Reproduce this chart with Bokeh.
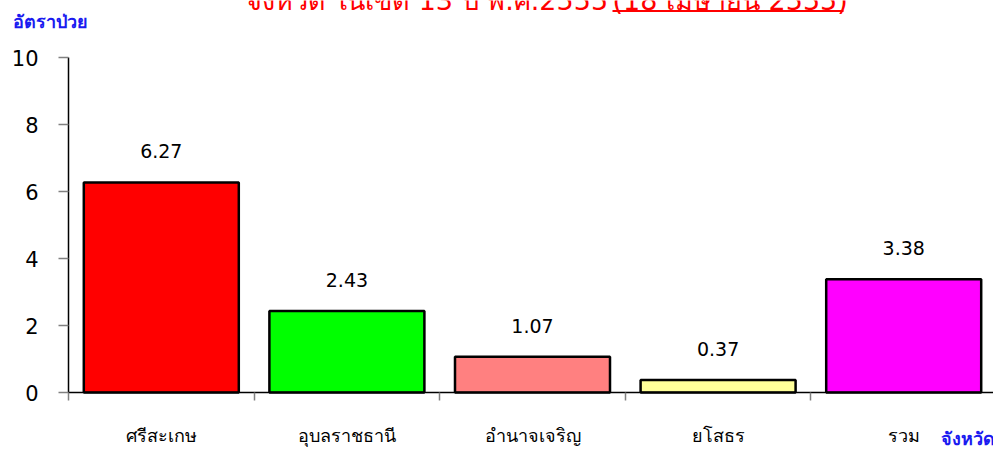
from bokeh.plotting import figure
from bokeh.models import ColumnDataSource, FixedTicker, Label, Range1d
from bokeh.core.properties import value
from bokeh.embed import file_html
from bokeh.resources import INLINE

# ---- data ----
provinces = ["ศรีสะเกษ", "อุบลราชธานี", "อำนาจเจริญ", "ยโสธร", "รวม"]
rates = [6.27, 2.43, 1.07, 0.37, 3.38]
colors = ["#FF0000", "#00FF00", "#FF8080", "#FFFF99", "#FF00FF"]
y_ticks = [0, 2, 4, 6, 8, 10]
title_main = "จังหวัด ในเขต 13 ปี พ.ศ.2555 "
title_date = "(18 เมษายน 2555)"
y_title = "อัตราป่วย"
x_title = "จังหวัด"

# ---- layout helpers (pixel -> data) ----
W, H = 993, 450
AX_L, AX_B = 68, 392      # axis positions (px)
CW = 185.6                # category width in px
YS = 33.5                 # px per unit


def xd(px):
    return (px - AX_L) / CW


def yd(py):
    return (AX_B - py) / YS


centers = [i + 0.5 for i in range(len(provinces))]
bounds = [float(i) for i in range(len(provinces) + 1)]
labels = [f"{v:.2f}" for v in rates]

src = ColumnDataSource(dict(x=centers, top=rates, color=colors, label=labels))

p = figure(width=W, height=H, output_backend="svg", toolbar_location=None,
           x_range=Range1d(xd(0), xd(W)), y_range=Range1d(yd(H), yd(0)),
           min_border_left=0, min_border_right=0, min_border_top=0,
           min_border_bottom=0)
p.outline_line_color = None
p.background_fill_color = "white"
p.border_fill_color = "white"
p.xgrid.grid_line_color = None
p.ygrid.grid_line_color = None

FONT = "DejaVu Sans"

# bars
p.vbar(x="x", top="top", width=155 / CW, source=src, fill_color="color",
       line_color="black", line_width=2.5)

# value labels
p.text(x="x", y="top", text="label", source=src, text_align="center",
       text_baseline="bottom", y_offset=-24, text_font=value(FONT),
       text_font_size="19px", text_color="black")

# y axis
ya = p.yaxis[0]
ya.fixed_location = 0
ya.ticker = FixedTicker(ticks=y_ticks)
ya.bounds = (0, 10)
ya.axis_line_color = "black"
ya.axis_line_width = 1.5
ya.major_tick_out = 10
ya.major_tick_in = 0
ya.minor_tick_out = 0
ya.minor_tick_in = 0
ya.major_tick_line_color = "#808080"
ya.major_tick_line_width = 1.5
ya.major_label_text_font = FONT
ya.major_label_text_font_size = "21px"
ya.major_label_text_color = "black"
ya.major_label_standoff = 20

# x axis: labels at centres, tick marks at category boundaries
xa = p.xaxis[0]
xa.fixed_location = 0
xa.ticker = FixedTicker(ticks=centers, minor_ticks=bounds)
xa.bounds = (0, xd(W))
xa.major_label_overrides = {c: n for c, n in zip(centers, provinces)}
xa.axis_line_color = "black"
xa.axis_line_width = 1.5
xa.major_tick_out = 0
xa.major_tick_in = 0
xa.minor_tick_out = 8
xa.minor_tick_in = 0
xa.minor_tick_line_color = "#808080"
xa.minor_tick_line_width = 1.5
xa.major_label_text_font = FONT
xa.major_label_text_font_size = "18px"
xa.major_label_text_color = "black"
xa.major_label_standoff = 24

# title (partly cut at the top, as in the reference)
p.text(x=[xd(245)], y=[yd(0)], text=[title_main], text_align="left",
       text_baseline="alphabetic", text_font=value(FONT),
       text_font_size="27px", text_color="#FF0000")
p.text(x=[xd(612)], y=[yd(0)], text=[title_date], text_align="left",
       text_baseline="alphabetic", text_font=value(FONT),
       text_font_size="27px", text_color="#FF0000")
p.segment(x0=[xd(612)], x1=[xd(843)], y0=[yd(10.5)], y1=[yd(10.5)],
          line_color="#FF0000", line_width=2)

# axis titles
p.add_layout(Label(x=xd(12), y=yd(10), text=y_title, text_align="left",
                   text_baseline="top", text_font=FONT, text_font_size="18px",
                   text_font_style="bold", text_color="#1A1AF0"))
p.add_layout(Label(x=xd(940), y=yd(438), text=x_title, text_align="left",
                   text_baseline="middle", text_font=FONT, text_font_size="18px",
                   text_font_style="bold", text_color="#1A1AF0"))

open("out.html", "w").write(file_html(p, INLINE))
